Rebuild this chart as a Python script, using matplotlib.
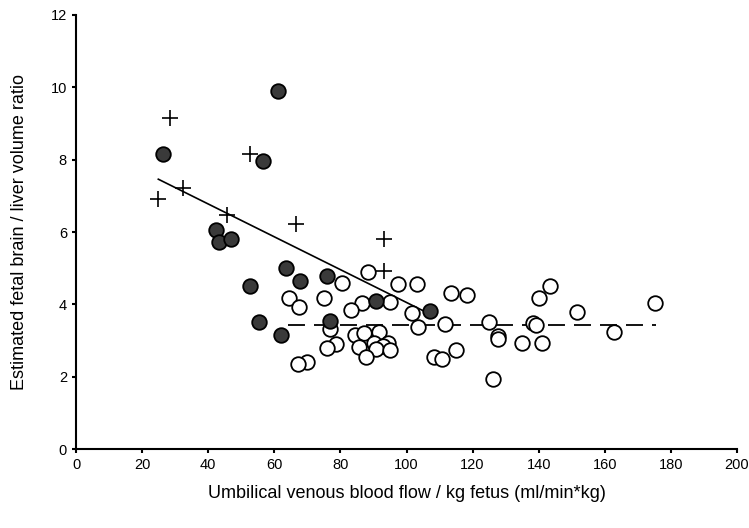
import matplotlib
matplotlib.use("Agg")
import matplotlib.pyplot as plt

plt.rcParams['font.family'] = ['Liberation Sans', 'DejaVu Sans']

# Crosses
plus_x = [28.4, 24.9, 32.3, 52.6, 45.8, 66.5, 93.3, 93.3]
plus_y = [9.14, 6.90, 7.22, 8.16, 6.47, 6.22, 5.81, 4.93]

# Filled circles
filled_x = [61.2, 26.4, 56.5, 42.3, 43.3, 46.9, 63.4, 52.6, 67.9, 76.0, 55.5, 62.1, 76.9, 90.8, 107.1]
filled_y = [9.90, 8.15, 7.96, 6.05, 5.73, 5.81, 5.01, 4.51, 4.65, 4.78, 3.50, 3.15, 3.55, 4.10, 3.82]

# Open circles
open_x = [88.3, 80.6, 97.5, 103.1, 113.4, 118.2, 64.4, 75.1, 67.5, 86.4, 83.2, 95.0,
          101.6, 103.6, 111.6, 76.9, 84.4, 87.1, 91.8, 90.2, 94.3, 92.8, 90.8, 95.0,
          85.7, 87.7, 78.7, 76.0, 70.0, 67.3, 108.4, 110.8, 114.9,
          125.1, 127.6, 127.8, 138.4, 139.2, 143.4, 140.1, 151.7, 134.8, 140.9, 162.8,
          175.2, 126.3]
open_y = [4.90, 4.60, 4.55, 4.55, 4.30, 4.26, 4.18, 4.18, 3.93, 4.03, 3.84, 4.07,
          3.75, 3.38, 3.47, 3.31, 3.15, 3.22, 3.24, 2.94, 2.94, 2.85, 2.76, 2.74,
          2.83, 2.54, 2.90, 2.78, 2.41, 2.34, 2.55, 2.48, 2.74,
          3.51, 3.12, 3.05, 3.49, 3.44, 4.51, 4.17, 3.78, 2.92, 2.94, 3.24,
          4.03, 1.94]

# Fitted lines
trend_x = [24.9, 105.1]
trend_y = [7.46, 3.82]
flat_x = [64.0, 175.5]
flat_y = [3.42, 3.42]

x_ticks = [0, 20, 40, 60, 80, 100, 120, 140, 160, 180, 200]
y_ticks = [0, 2, 4, 6, 8, 10, 12]

fig = plt.figure(figsize=(7.49, 5.28), dpi=100)
ax = fig.add_axes([0.1015, 0.1496, 0.8825, 0.822])

ax.plot(flat_x, flat_y, color='black', lw=1.3, dashes=(9.4, 5), zorder=1)
ax.plot(trend_x, trend_y, color='black', lw=1.2, zorder=1)

ax.plot(open_x, open_y, linestyle='none', marker='o', markersize=10.5,
        markerfacecolor='white', markeredgecolor='black', markeredgewidth=1.3, zorder=2)
ax.plot(filled_x, filled_y, linestyle='none', marker='o', markersize=10.5,
        markerfacecolor='#3a3a3a', markeredgecolor='black', markeredgewidth=1.3, zorder=3)
ax.plot(plus_x, plus_y, linestyle='none', marker='+', markersize=12,
        markeredgecolor='black', markeredgewidth=1.2, zorder=3)

ax.set_xlim(0, 200)
ax.set_ylim(0, 12)
ax.set_xticks(x_ticks)
ax.set_yticks(y_ticks)
ax.tick_params(axis='both', direction='out', length=3, width=1.5, labelsize=10.5)
for s in ['top', 'right']:
    ax.spines[s].set_visible(False)
for s in ['left', 'bottom']:
    ax.spines[s].set_linewidth(1.5)

ax.set_xlabel('Umbilical venous blood flow / kg fetus (ml/min*kg)', fontsize=13, labelpad=9)
ax.set_ylabel('Estimated fetal brain / liver volume ratio', fontsize=13, labelpad=16)

fig.savefig('out.png', dpi=100)
